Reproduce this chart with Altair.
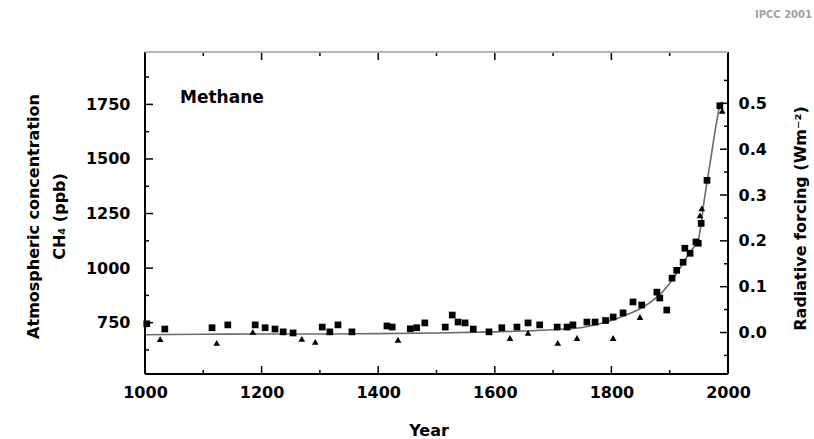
import altair as alt
import pandas as pd

# ---------------- data ----------------
sq_years = [1003, 1034, 1115, 1142, 1189, 1206, 1223, 1237, 1254, 1304, 1317, 1331, 1355,
            1415, 1424, 1455, 1466, 1480, 1515, 1527, 1537, 1549, 1563, 1590, 1612, 1638,
            1657, 1677, 1707, 1724, 1734, 1758, 1772, 1790, 1803, 1820, 1837, 1852, 1878,
            1883, 1895, 1904, 1912, 1923, 1926, 1935, 1945, 1949, 1954, 1964, 1986]
sq_ppb = [745, 721, 727, 740, 740, 727, 721, 708, 703, 730, 708, 740, 708,
          735, 730, 722, 727, 749, 730, 785, 753, 749, 721, 708, 727, 730,
          749, 740, 730, 730, 740, 753, 753, 760, 776, 795, 845, 831, 890,
          863, 808, 954, 990, 1027, 1091, 1068, 1120, 1114, 1205, 1402, 1744]

tri_years = [1026, 1123, 1185, 1269, 1292, 1434, 1626, 1657, 1708, 1741, 1803, 1849, 1952, 1955, 1990]
tri_ppb = [675, 658, 708, 676, 662, 672, 680, 703, 658, 680, 680, 776, 1242, 1274, 1721]

fit_years = [1000, 1100, 1200, 1300, 1400, 1500, 1600, 1650, 1700, 1750, 1800, 1825, 1850,
             1875, 1900, 1920, 1935, 1949, 1960, 1970, 1980, 1986, 1990]
fit_ppb = [695, 697, 698, 698, 700, 703, 708, 712, 718, 728, 760, 785, 815,
           860, 930, 1010, 1075, 1130, 1325, 1493, 1662, 1744, 1760]

x_major = [1000, 1200, 1400, 1600, 1800, 2000]
x_minor = [1100, 1300, 1500, 1700, 1900]
y_major = [750, 1000, 1250, 1500, 1750]
y_minor = [625, 875, 1125, 1375, 1625, 1875]
f_major = [0.0, 0.1, 0.2, 0.3, 0.4, 0.5]
f_minor = [-0.05, 0.05, 0.15, 0.25, 0.35, 0.45, 0.55]

label_text = ["Methane"]
label_year = [1060]
label_ppb = [1781]

# ---------------- layout ----------------
W, H = 583, 322
FONT = "DejaVu Sans"

xs = alt.Scale(domain=[1000, 2000], nice=False, zero=False, padding=0)
ys = alt.Scale(domain=[515, 1990], nice=False, zero=False, padding=0)
fs = alt.Scale(domain=[-0.0905, 0.612], nice=False, zero=False, padding=0)

x_axis = alt.Axis(values=x_major, title="Year", ticks=False, domain=False, grid=False,
                  format="d", labelFontSize=16, labelFont=FONT, labelFontWeight="bold",
                  labelPadding=10, labelColor="black", labelFlush=False, labelOverlap=False,
                  titleFontSize=16, titleFont=FONT, titleFontWeight="bold", titleColor="black",
                  titleX=W / 2 - 8, titleY=56, titleBaseline="middle")
y_axis = alt.Axis(values=y_major, title=["Atmospheric concentration", "CH\u2084 (ppb)"],
                  ticks=False, domain=False, grid=False, format="d",
                  labelFontSize=16, labelFont=FONT, labelFontWeight="bold", labelPadding=15,
                  labelColor="black", labelFlush=False, labelOverlap=False,
                  titleFontSize=16, titleFont=FONT, titleFontWeight="bold", titleColor="black",
                  titleLineHeight=26, titleAngle=270, titleX=-112, titleY=H / 2 + 3,
                  titleBaseline="middle", titleAlign="center")
f_axis = alt.Axis(values=f_major, title="Radiative forcing (Wm\u207b\u00b2)", orient="right",
                  ticks=False, domain=False, grid=False, format=".1f",
                  labelFontSize=16, labelFont=FONT, labelFontWeight="bold", labelPadding=10,
                  labelColor="black", labelFlush=False, labelOverlap=False,
                  titleFontSize=16, titleFont=FONT, titleFontWeight="bold", titleColor="black",
                  titleAngle=270, titleX=72, titleY=H / 2 + 5, titleBaseline="middle",
                  titleAlign="center")

X = alt.X("year:Q", scale=xs, axis=x_axis)
Y = alt.Y("ppb:Q", scale=ys, axis=y_axis)

sq_df = pd.DataFrame({"year": sq_years, "ppb": sq_ppb})
tri_df = pd.DataFrame({"year": tri_years, "ppb": tri_ppb})
fit_df = pd.DataFrame({"year": fit_years, "ppb": fit_ppb})

line = alt.Chart(fit_df).mark_line(color="#6a6a6a", strokeWidth=1.6, interpolate="monotone").encode(x=X, y=Y)
squares = alt.Chart(sq_df).mark_point(shape="square", filled=True, color="black", size=45, opacity=1).encode(x=X, y=Y)
tris = alt.Chart(tri_df).mark_point(shape="triangle-up", filled=True, color="black", size=45, opacity=1).encode(x=X, y=Y)

label = alt.Chart(pd.DataFrame({"year": label_year, "ppb": label_ppb, "t": label_text})).mark_text(
    font=FONT, fontSize=17, fontWeight="bold", align="left", baseline="middle", color="black"
).encode(x=X, y=Y, text="t:N")

ipcc = alt.Chart(pd.DataFrame({"t": ["IPCC 2001"]})).mark_text(
    font=FONT, fontSize=10, fontWeight="bold", align="right", baseline="middle", color="#a0a0a0"
).encode(x=alt.value(W + 84), y=alt.value(-37), text="t:N")


def xticks(vals, length, top):
    df = pd.DataFrame({"year": vals})
    if top:
        return alt.Chart(df).mark_rule(color="black", strokeWidth=1.5).encode(
            x=X, y=alt.value(0), y2=alt.value(length))
    return alt.Chart(df).mark_rule(color="black", strokeWidth=1.5).encode(
        x=X, y=alt.value(H), y2=alt.value(H - length))


def yticks(vals, length):
    df = pd.DataFrame({"ppb": vals})
    return alt.Chart(df).mark_rule(color="black", strokeWidth=1.5).encode(
        y=Y, x=alt.value(0), x2=alt.value(length))


def fticks(vals, length):
    df = pd.DataFrame({"f": vals})
    return alt.Chart(df).mark_rule(color="black", strokeWidth=1.5).encode(
        y=alt.Y("f:Q", scale=fs, axis=f_axis), x=alt.value(W), x2=alt.value(W - length))


frame_df = pd.DataFrame({"k": [0]})
frame = [
    alt.Chart(frame_df).mark_rule(color="black", strokeWidth=2).encode(x=alt.value(0), y=alt.value(0), y2=alt.value(H)),
    alt.Chart(frame_df).mark_rule(color="black", strokeWidth=2).encode(x=alt.value(W), y=alt.value(0), y2=alt.value(H)),
    alt.Chart(frame_df).mark_rule(color="black", strokeWidth=2).encode(y=alt.value(H), x=alt.value(0), x2=alt.value(W)),
    alt.Chart(frame_df).mark_rule(color="#b5b5b5", strokeWidth=2).encode(y=alt.value(0), x=alt.value(0), x2=alt.value(W)),
]

left = alt.layer(
    line, squares, tris, label, ipcc,
    xticks(x_major, 8, False), xticks(x_minor, 4, False),
    xticks(x_major, 8, True), xticks(x_minor, 4, True),
    yticks(y_major, 8), yticks(y_minor, 4),
    *frame,
)
right = alt.layer(fticks(f_major, 8), fticks(f_minor, 4))

chart = alt.layer(left, right).resolve_scale(y="independent").properties(
    width=W, height=H,
    autosize=alt.AutoSizeParams(type="none"),
    padding={"left": 145, "top": 52, "right": 86, "bottom": 65},
    background="white",
).configure_view(stroke=None)

chart.save("out.html", embed_options={"renderer": "svg", "actions": False})
